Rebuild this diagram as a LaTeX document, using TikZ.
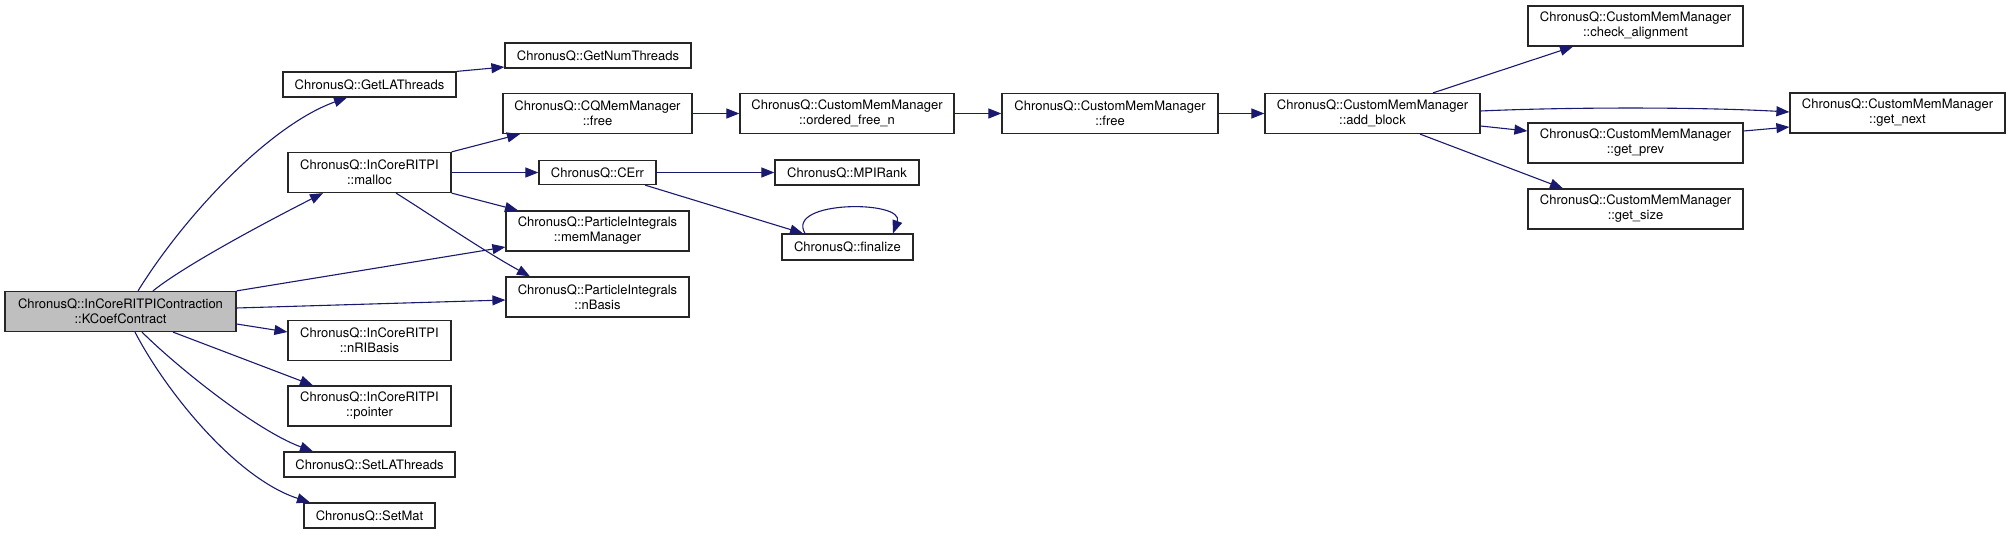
\documentclass[tikz,border=0pt]{standalone}
\usepackage{fontspec}
\setmainfont{TeX Gyre Heros}
\usetikzlibrary{arrows.meta}
\definecolor{edgeblue}{HTML}{191970}
\definecolor{mainfill}{HTML}{BFBFBF}
\begin{document}
\begin{tikzpicture}[x=1pt,y=-1pt,
  fn/.style={draw=black!85,line width=1.2pt,fill=white,inner sep=0pt,align=center,
     font=\fontsize{13}{15}\selectfont,minimum height=40pt},
  fnone/.style={fn,minimum height=25pt},
  call/.style={draw=edgeblue,line width=1.1pt,-{Triangle[length=13pt,width=10pt]}}]
\useasboundingbox (0,0) rectangle (2011,534);
% nodes
\node[fn,fill=mainfill,minimum width=231pt] (main) at (120.5,311.5) {ChronusQ::InCoreRITPIContraction\\::KCoefContract};
\node[fnone,minimum width=173pt] (getla) at (369.5,84.5) {ChronusQ::GetLAThreads};
\node[fnone,minimum width=186pt] (getnum) at (598,55.5) {ChronusQ::GetNumThreads};
\node[fn,minimum width=189pt] (cqfree) at (597.5,113.5) {ChronusQ::CQMemManager\\::free};
\node[fn,minimum width=163pt] (malloc) at (369.5,172.5) {ChronusQ::InCoreRITPI\\::malloc};
\node[fnone,minimum width=117pt,minimum height=24pt] (cerr) at (597.5,172.5) {ChronusQ::CErr};
\node[fn,minimum width=183pt] (memman) at (597.5,231) {ChronusQ::ParticleIntegrals\\::memManager};
\node[fn,minimum width=183pt] (nbasis) at (597.5,297) {ChronusQ::ParticleIntegrals\\::nBasis};
\node[fn,minimum width=163pt] (nri) at (369.5,340.5) {ChronusQ::InCoreRITPI\\::nRIBasis};
\node[fn,minimum width=163pt] (pointer) at (369.5,406) {ChronusQ::InCoreRITPI\\::pointer};
\node[fnone,minimum width=171pt] (setla) at (369.5,464.5) {ChronusQ::SetLAThreads};
\node[fnone,minimum width=131pt] (setmat) at (369.5,515.5) {ChronusQ::SetMat};
\node[fn,minimum width=214pt] (ordered) at (847,113.5) {ChronusQ::CustomMemManager\\::ordered\_free\_n};
\node[fn,minimum width=216pt] (cmmfree) at (1110,113.5) {ChronusQ::CustomMemManager\\::free};
\node[fnone,minimum width=144pt] (mpirank) at (847,172.5) {ChronusQ::MPIRank};
\node[fnone,minimum width=131pt,minimum height=26pt] (finalize) at (847.5,247) {ChronusQ::finalize};
\node[fn,minimum width=215pt] (addblock) at (1372.5,113.5) {ChronusQ::CustomMemManager\\::add\_block};
\node[fn,minimum width=215pt] (checkal) at (1635.5,26) {ChronusQ::CustomMemManager\\::check\_alignment};
\node[fn,minimum width=215pt] (getprev) at (1635.5,143) {ChronusQ::CustomMemManager\\::get\_prev};
\node[fn,minimum width=215pt] (getsize) at (1635.5,209) {ChronusQ::CustomMemManager\\::get\_size};
\node[fn,minimum width=215pt] (getnext) at (1897.5,113) {ChronusQ::CustomMemManager\\::get\_next};
% edges from main
\draw[call] ([xshift=17.5pt]main.north) .. controls (185,215) and (270,125) .. ([xshift=-22.5pt]getla.south);
\draw[call] ([xshift=32.5pt]main.north) .. controls (185,265) and (270,220) .. ([xshift=-46.5pt]malloc.south);
\draw[call] (main.north east) -- ([yshift=-16pt]memman.west);
\draw[call] ([yshift=3.5pt]main.east) -- ([yshift=-3pt]nbasis.west);
\draw[call] ([yshift=-12.5pt]main.east) -- ([yshift=8.5pt]nri.west);
\draw[call] ([xshift=52.5pt]main.south) -- ([xshift=-56.5pt]pointer.north);
\draw[call] ([xshift=21.5pt]main.south) .. controls (175,365) and (255,430) .. ([xshift=-56.5pt]setla.north);
\draw[call] ([xshift=14.5pt]main.south) .. controls (165,390) and (235,478) .. ([xshift=-59.5pt]setmat.north);
% second level
\draw[call] (getla.north east) -- ([yshift=-11.5pt]getnum.west);
\draw[call] (malloc.north east) -- ([xshift=-77.5pt]cqfree.south);
\draw[call] (malloc.east) -- (cerr.west);
\draw[call] (malloc.south east) -- ([xshift=-79.5pt]memman.north);
\draw[call] ([xshift=26.5pt]malloc.south) .. controls (428,213) and (482,250) .. ([xshift=-67.5pt]nbasis.north);
\draw[call] (cqfree.east) -- (ordered.west);
\draw[call] (ordered.east) -- (cmmfree.west);
\draw[call] (cmmfree.east) -- (addblock.west);
\draw[call] (cerr.east) -- (mpirank.west);
\draw[call] ([xshift=47.5pt]cerr.south) -- ([xshift=-44.5pt]finalize.north);
\draw[call] ([xshift=-42.5pt]finalize.north) .. controls (785,200) and (905,200) .. ([xshift=45.5pt]finalize.north);
% add_block
\draw[call] ([xshift=60.5pt]addblock.north) -- ([xshift=-62.5pt]checkal.south);
\draw[call] ([yshift=2.5pt]addblock.east) .. controls (1570,107) and (1700,107) .. ([yshift=1pt]getnext.west);
\draw[call] ([yshift=-12.5pt]addblock.east) -- ([yshift=12pt]getprev.west);
\draw[call] ([xshift=47.5pt]addblock.south) -- ([xshift=-72.5pt]getsize.north);
\draw[call] ([yshift=12pt]getprev.east) -- ([yshift=-14pt]getnext.west);
\end{tikzpicture}
\end{document}
